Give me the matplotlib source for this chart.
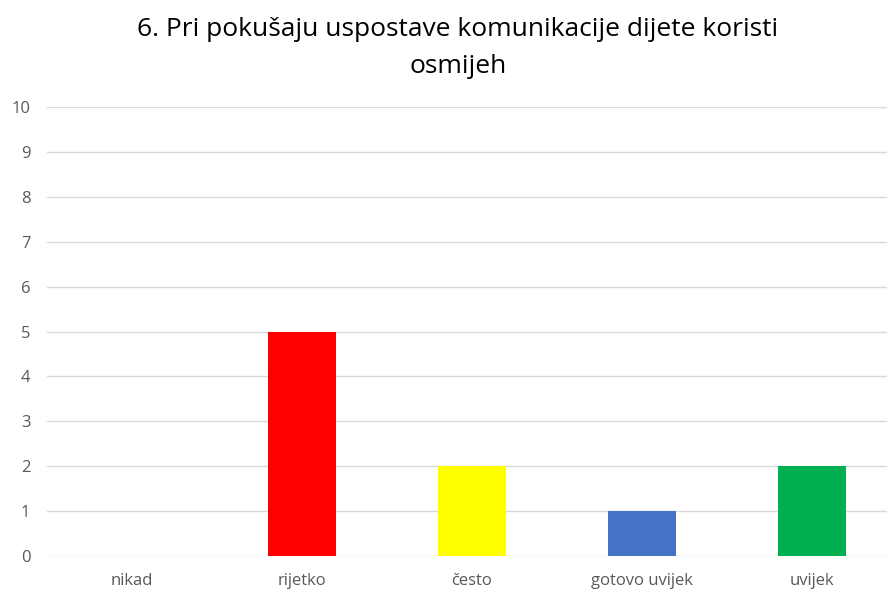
import matplotlib
matplotlib.use("Agg")
import matplotlib.pyplot as plt

categories = ["nikad", "rijetko", "često", "gotovo uvijek", "uvijek"]
values = [0, 5, 2, 1, 2]
colors = ["#A5A5A5", "#FF0000", "#FFFF00", "#4472C4", "#00B050"]
title = "6. Pri pokušaju uspostave komunikacije dijete koristi\nosmijeh"

plt.rcParams["font.family"] = ["Open Sans", "DejaVu Sans"]

W, H = 891, 590
fig = plt.figure(figsize=(W / 100, H / 100), dpi=100)
ax = fig.add_axes([47 / W, 34 / H, 840 / W, 449 / H])

x = list(range(len(categories)))
ax.bar(x, values, width=0.4, color=colors, zorder=3)

ax.set_xlim(-0.5, -0.5 + 840 / 170)
ax.set_ylim(0, 10)
ax.set_yticks(range(0, 11))
ax.set_xticks(x)
ax.set_xticklabels(categories)
ax.tick_params(axis="both", length=0, colors="#595959", labelsize=12)
ax.tick_params(axis="x", pad=12)
ax.tick_params(axis="y", pad=12)
ax.grid(axis="y", color="#D9D9D9", linewidth=1, zorder=0)
for s in ax.spines.values():
    s.set_visible(False)

fig.text(458 / W, 1 - 48 / H, title, ha="center", va="center", fontsize=19,
         color="#000000", linespacing=1.62)

fig.savefig("out.png", dpi=100)
